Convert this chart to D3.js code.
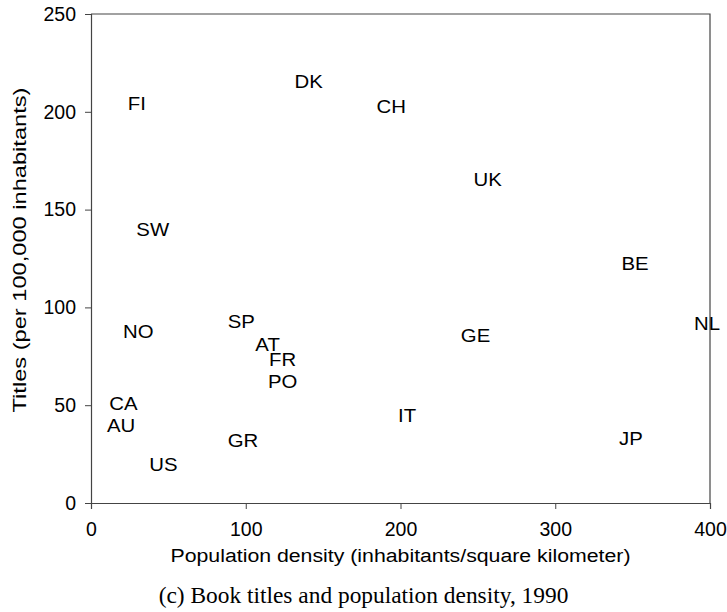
<!DOCTYPE html>
<html>
<head>
<meta charset="utf-8">
<script src="https://cdn.jsdelivr.net/npm/d3@7"></script>
<style>
  body { margin: 0; background: #fff; }
  svg { display: block; }
</style>
</head>
<body>
<div id="chart"></div>
<script>
(function(){

const width = 727;
const height = 612;
const margin = {top:14, right:17, bottom:109, left:91};

// country codes and their position (density, titles)
const countries = ["FI","DK","CH","SW","UK","BE","NL","GE","IT","JP","NO","SP","AT","FR","PO","CA","AU","GR","US"];
const density   = [29.6, 140.6, 194.0, 39.9, 256.3, 351.5, 398.1, 248.5, 204.3, 348.9, 30.6, 97.1, 114.1, 123.8, 123.8, 20.9, 19.4, 98.2, 46.8];
const titles    = [204.3, 215.4, 202.6, 140.1, 165.6, 122.7, 91.9, 85.9, 44.6, 33.1, 87.6, 92.7, 81.1, 73.6, 62.0, 51.0, 39.9, 32.2, 19.9];

const xTicks = [0, 100, 200, 300, 400];
const yTicks = [0, 50, 100, 150, 200, 250];

const svg = d3.select("#chart")
  .append("svg")
  .attr("width", width)
  .attr("height", height);

const x = d3.scaleLinear()
  .domain([0, 400])
  .range([margin.left, width - margin.right]);

const y = d3.scaleLinear()
  .domain([0, 250])
  .range([height - margin.bottom, margin.top]);

const font = "'Liberation Sans', Arial, sans-serif";

// frame (top and right)
svg.append("path")
  .attr("d", `M${x(0)},${y(250)}H${x(400)}V${y(0)}`)
  .attr("fill", "none")
  .attr("stroke", "#444")
  .attr("stroke-width", 1.2);

// X axis
const xAxis = svg.append("g")
  .attr("transform", `translate(0,${y(0)})`)
  .call(d3.axisBottom(x).tickValues(xTicks).tickSize(6).tickPadding(13));

// Y axis
const yAxis = svg.append("g")
  .attr("transform", `translate(${x(0)},0)`)
  .call(d3.axisLeft(y).tickValues(yTicks).tickSize(6).tickPadding(9));

[xAxis, yAxis].forEach(g => {
  g.select(".domain").attr("stroke", "#444").attr("stroke-width", 1.2);
  g.selectAll(".tick line").attr("stroke", "#444");
  g.selectAll(".tick text")
    .attr("fill", "#000")
    .style("font-family", font)
    .style("font-size", "19.5px");
});

// country labels
svg.selectAll(".label")
  .data(countries)
  .enter()
  .append("text")
  .attr("class", "label")
  .attr("transform", (d,i) => `translate(${x(density[i])},${y(titles[i])}) scale(1.1,1)`)
  .attr("text-anchor", "middle")
  .attr("dy", "0.36em")
  .style("font-family", font)
  .style("font-size", "18.5px")
  .text(d => d);

// axis titles
svg.append("text")
  .attr("x", (x(0) + x(400)) / 2)
  .attr("y", 562)
  .attr("text-anchor", "middle")
  .attr("textLength", 460)
  .attr("lengthAdjust", "spacingAndGlyphs")
  .style("font-family", font)
  .style("font-size", "18px")
  .text("Population density (inhabitants/square kilometer)");

svg.append("text")
  .attr("transform", "rotate(-90)")
  .attr("x", -250)
  .attr("y", 26)
  .attr("text-anchor", "middle")
  .attr("textLength", 325)
  .attr("lengthAdjust", "spacingAndGlyphs")
  .style("font-family", font)
  .style("font-size", "19px")
  .text("Titles (per 100,000 inhabitants)");

// caption
svg.append("text")
  .attr("x", width / 2)
  .attr("y", 603)
  .attr("text-anchor", "middle")
  .style("font-family", "'Liberation Serif', 'Times New Roman', serif")
  .style("font-size", "23.4px")
  .text("(c) Book titles and population density, 1990");

})();
</script>
</body>
</html>
